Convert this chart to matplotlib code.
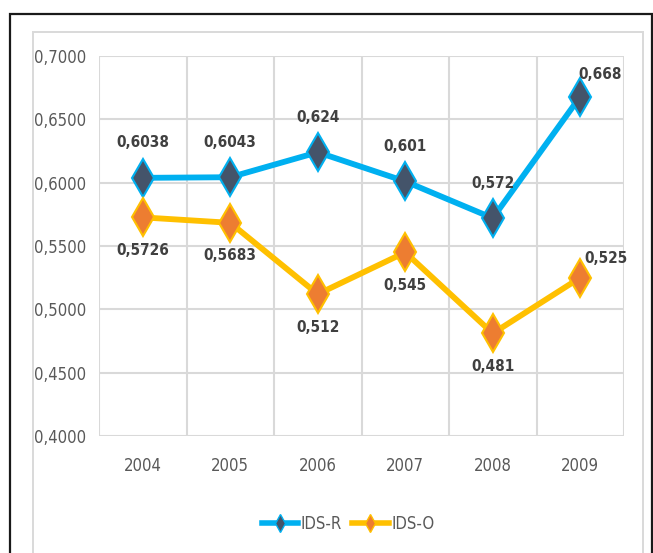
import matplotlib
matplotlib.use("Agg")
import matplotlib.pyplot as plt
from matplotlib.patches import Rectangle
from matplotlib.lines import Line2D

years = ["2004", "2005", "2006", "2007", "2008", "2009"]
ids_r = [0.6038, 0.6043, 0.624, 0.601, 0.572, 0.668]
ids_o = [0.5726, 0.5683, 0.512, 0.545, 0.481, 0.525]
ids_r_labels = ["0,6038", "0,6043", "0,624", "0,601", "0,572", "0,668"]
ids_o_labels = ["0,5726", "0,5683", "0,512", "0,545", "0,481", "0,525"]
yticks = [0.40, 0.45, 0.50, 0.55, 0.60, 0.65, 0.70]
ytick_labels = ["0,4000", "0,4500", "0,5000", "0,5500", "0,6000", "0,6500", "0,7000"]
series_names = ["IDS-R", "IDS-O"]

plt.rcParams['font.family'] = ["DejaVu Sans"]
plt.rcParams['font.stretch'] = "condensed"

W, H = 653, 553
fig = plt.figure(figsize=(W / 100, H / 100), dpi=100)

# outer black frame and grey chart-area border
fig.patches.append(Rectangle((10 / W, -0.05), (652 - 10) / W, 1.05 - 14 / H,
                             transform=fig.transFigure, fill=False, ec="#1a1a1a", lw=1.6))
fig.patches.append(Rectangle((33 / W, -0.05), (643 - 33) / W, 1.05 - 32 / H,
                             transform=fig.transFigure, fill=False, ec="#d9d9d9", lw=1.4))

ax = fig.add_axes([99 / W, 1 - 436 / H, (624 - 99) / W, (436 - 56) / H])
x = list(range(len(years)))

ax.set_xlim(-0.5, len(years) - 0.5)
ax.set_ylim(0.40, 0.70)
ax.set_yticks(yticks)
ax.set_yticklabels(ytick_labels)
ax.set_xticks(x)
ax.set_xticklabels(years)
ax.set_xticks([i - 0.5 for i in range(len(years) + 1)], minor=True)
ax.grid(True, axis="y", color="#d9d9d9", lw=1.5)
ax.grid(True, axis="x", which="minor", color="#d9d9d9", lw=1.5)
ax.set_axisbelow(True)
for s in ax.spines.values():
    s.set_visible(False)
ax.tick_params(which="both", length=0)
ax.tick_params(axis="y", labelsize=12, labelcolor="#595959", pad=9)
ax.tick_params(axis="x", labelsize=12, labelcolor="#595959", pad=15)

ax.plot(x, ids_r, color="#00b0f0", lw=4.2, marker="d", ms=19, mfc="#44546a",
        mec="#00b0f0", mew=1.5, solid_capstyle="round", zorder=3)
ax.plot(x, ids_o, color="#ffc000", lw=4.2, marker="d", ms=19, mfc="#ed7d31",
        mec="#ffc000", mew=1.5, solid_capstyle="round", zorder=3)

lab_kw = dict(fontsize=11, fontweight="bold", color="#404040", ha="center", va="center")
for i, (v, t) in enumerate(zip(ids_r, ids_r_labels)):
    if i == len(years) - 1:
        ax.annotate(t, (i, v), xytext=(20, 22), textcoords="offset pixels", **lab_kw)
    else:
        ax.annotate(t, (i, v), xytext=(0, 35), textcoords="offset pixels", **lab_kw)
for i, (v, t) in enumerate(zip(ids_o, ids_o_labels)):
    if i == len(years) - 1:
        ax.annotate(t, (i, v), xytext=(26, 19), textcoords="offset pixels", **lab_kw)
    else:
        ax.annotate(t, (i, v), xytext=(0, -33), textcoords="offset pixels", **lab_kw)

handles = [
    Line2D([], [], color="#00b0f0", lw=4, marker="d", ms=9, mfc="#44546a", mec="#00b0f0"),
    Line2D([], [], color="#ffc000", lw=4, marker="d", ms=9, mfc="#ed7d31", mec="#ffc000"),
]
leg = fig.legend(handles, series_names, loc="center", bbox_to_anchor=(348 / W, 1 - 524 / H),
                 ncol=2, frameon=False, fontsize=12, handlelength=2.2, handletextpad=0.15,
                 columnspacing=0.6, labelcolor="#595959", borderpad=0, borderaxespad=0)

fig.savefig("out.png", dpi=100)
